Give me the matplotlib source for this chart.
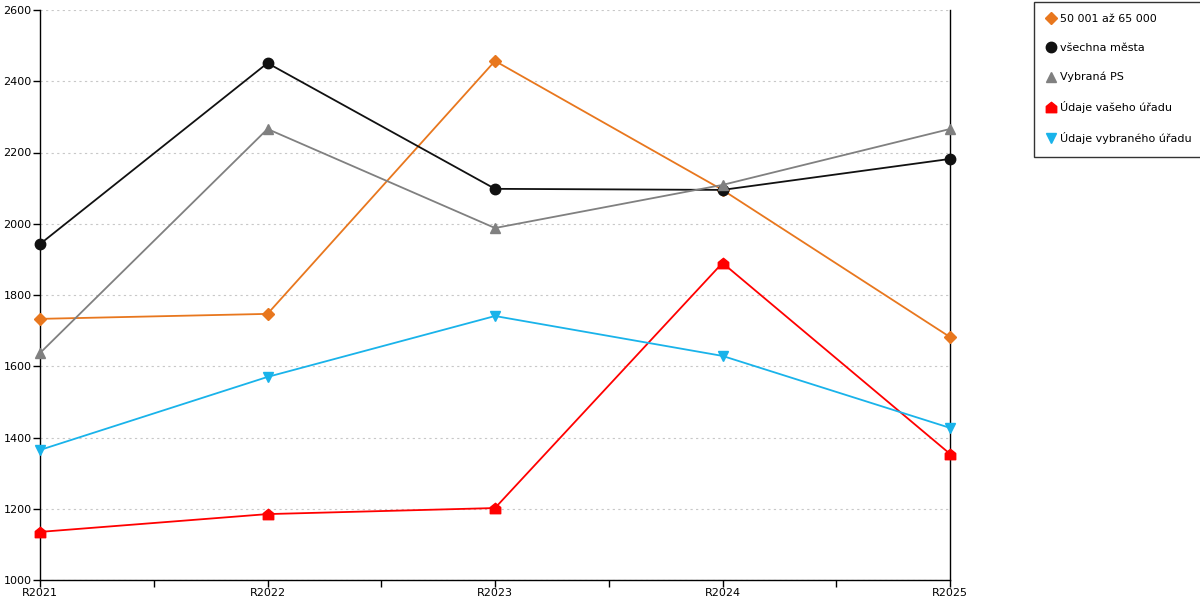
import matplotlib.pyplot as plt
from matplotlib.path import Path
from matplotlib.lines import Line2D
import numpy as np

roky = ['R2021', 'R2022', 'R2023', 'R2024', 'R2025']

mesta_50_65 = [1733, 1747, 2457, 2095, 1682]
vsechna_mesta = [1943, 2451, 2098, 2095, 2182]
vybrana_ps = [1637, 2266, 1988, 2109, 2266]
vas_urad = [1135, 1185, 1202, 1890, 1354]
vybrany_urad = [1365, 1570, 1741, 1629, 1427]

nazvy = ['50 001 až 65 000', 'všechna města', 'Vybraná PS',
         'Údaje vašeho úřadu', 'Údaje vybraného úřadu']

# marker "domeček" pro údaje úřadu
domek = Path([(-1, -1), (1, -1), (1, 0.2), (0, 1), (-1, 0.2), (-1, -1)],
             [Path.MOVETO] + [Path.LINETO] * 4 + [Path.CLOSEPOLY])

serie = [
    (mesta_50_65, '#E8771E', 'D', 6),
    (vsechna_mesta, '#111111', 'o', 7.5),
    (vybrana_ps, '#808080', '^', 7.5),
    (vas_urad, '#FF0000', domek, 7.5),
    (vybrany_urad, '#19B3EA', 'v', 7.5),
]

fig = plt.figure(figsize=(12, 6), dpi=100)
ax = fig.add_axes([40 / 1200, 20 / 600, 910 / 1200, 570 / 600])

x = np.arange(len(roky))
handles = []
for (vals, col, mk, ms), nazev in zip(serie, nazvy):
    ax.plot(x, vals, color=col, lw=1.3, marker=mk, ms=ms, clip_on=False, zorder=3)
    handles.append(Line2D([], [], color=col, marker=mk, ms=ms, ls='none'))

ax.set_xlim(0, 4)
ax.set_ylim(1000, 2600)
ax.set_yticks(np.arange(1000, 2601, 200))
ax.set_xticks(x)
ax.set_xticklabels(roky)
ax.set_xticks(x[:-1] + 0.5, minor=True)
ax.tick_params(axis='both', labelsize=8, length=5, width=1, color='black', pad=1)
ax.tick_params(axis='x', which='minor', length=5, width=1)
ax.yaxis.grid(True, color='#C8C8C8', ls=(0, (2, 3)), lw=0.8)
ax.set_axisbelow(True)
for s in ['left', 'bottom', 'right']:
    ax.spines[s].set_color('black')
    ax.spines[s].set_linewidth(1)
ax.spines['top'].set_visible(False)

leg = fig.legend(handles, nazvy, loc='upper left', bbox_to_anchor=(1034 / 1200, 1 - 2 / 600),
                 fontsize=8, frameon=True, fancybox=False, edgecolor='black',
                 handlelength=0.8, handletextpad=0.4, labelspacing=1.7,
                 borderpad=1.1, borderaxespad=0)
leg.get_frame().set_linewidth(1)

fig.savefig('out.png', dpi=100)
